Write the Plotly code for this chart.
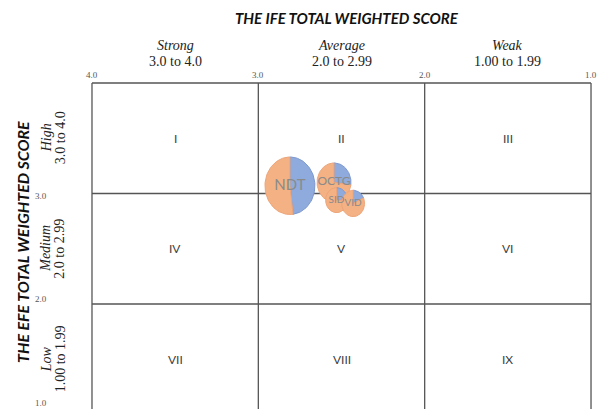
import numpy as np
import plotly.graph_objects as go

# ---------------- data ----------------
companies = ["NDT", "OCTG", "SID", "VID"]
ife_scores = [2.81, 2.545, 2.53, 2.43]      # x: IFE total weighted score
efe_scores = [3.07, 3.10, 2.94, 2.91]       # y: EFE total weighted score
bubble_size = [100, 46, 19, 21]             # relative bubble (area) size
blue_share = [0.48, 0.27, 0.25, 0.18]       # share of the blue slice

grid_values = [4.0, 3.0, 2.0, 1.0]
x_tick_text = ["4.0", "3.0", "2.0", "1.0"]
y_tick_values = [3.0, 2.0, 1.0]
y_tick_text = ["3.0", "2.0", "1.0"]
col_centers = [3.5, 2.5, 1.5]
col_names = ["Strong", "Average", "Weak"]
col_ranges = ["3.0 to 4.0", "2.0 to 2.99", "1.00 to 1.99"]
row_centers = [3.5, 2.5, 1.5]
row_names = ["High", "Medium", "Low"]
row_ranges = ["3.0 to 4.0", "2.0 to 2.99", "1.00 to 1.99"]
cell_labels = [["I", "II", "III"], ["IV", "V", "VI"], ["VII", "VIII", "IX"]]

# ---------------- geometry / style ----------------
W, H = 602, 409
X_RANGE = [4.553, 0.934]
Y_RANGE = [1.050, 4.751]
px_per_x = W / (X_RANGE[0] - X_RANGE[1])
px_per_y = H / (Y_RANGE[1] - Y_RANGE[0])
R_SCALE = 2.5       # pixels per sqrt(size)
Y_STRETCH = 1.15
BLUE = "#8FAADC"
ORANGE = "#F4B183"
BLUE_LINE = "#7C98D0"
ORANGE_LINE = "#EDA579"
GRID = "#555555"
SERIF = "Liberation Serif"
SANS = "Lato"


def wedge(cx, cy, rx, ry, a0, a1):
    n = max(int(abs(a1 - a0) / 3) + 2, 3)
    th = np.radians(np.linspace(a0, a1, n))
    xs = np.concatenate([[cx], cx - rx * np.sin(th), [cx]])
    ys = np.concatenate([[cy], cy + ry * np.cos(th), [cy]])
    return xs, ys


fig = go.Figure()

for name, cx, cy, s, f in zip(companies, ife_scores, efe_scores, bubble_size, blue_share):
    r_px = R_SCALE * np.sqrt(s)
    rx = r_px / px_per_x
    ry = r_px * Y_STRETCH / px_per_y
    split = 360 * f
    for a0, a1, fc, lc in [(0, split, BLUE, BLUE_LINE), (split, 360, ORANGE, ORANGE_LINE)]:
        xs, ys = wedge(cx, cy, rx, ry, a0, a1)
        fig.add_trace(go.Scatter(x=xs, y=ys, mode="lines", fill="toself",
                                 fillcolor=fc, line=dict(color=lc, width=1),
                                 hoverinfo="skip", showlegend=False))

fig.add_trace(go.Scatter(
    x=ife_scores, y=efe_scores, mode="text", text=companies,
    textposition="middle center",
    textfont=dict(family=SANS, size=[15, 12, 10, 10], color="#8A8A8A"),
    hoverinfo="skip", showlegend=False))

shapes = []
for v in grid_values:
    shapes.append(dict(type="line", xref="x", yref="y", x0=v, x1=v, y0=1.0, y1=4.0,
                       line=dict(color=GRID, width=1.3), layer="below"))
    shapes.append(dict(type="line", xref="x", yref="y", x0=4.0, x1=1.0, y0=v, y1=v,
                       line=dict(color=GRID, width=1.3), layer="below"))

ann = []


def ypaper(v):
    return (v - Y_RANGE[0]) / (Y_RANGE[1] - Y_RANGE[0])


def xdata_from_px(p):
    return X_RANGE[0] - p / px_per_x


def ydata_from_px(p):
    return Y_RANGE[1] - p / px_per_y


# title top
ann.append(dict(x=xdata_from_px(347), y=ydata_from_px(18), xref="x", yref="y",
                text="<b><i>THE IFE TOTAL WEIGHTED SCORE</i></b>", showarrow=False,
                font=dict(family=SANS, size=15, color="#111111")))
# y title
ann.append(dict(x=xdata_from_px(22), y=ydata_from_px(242), xref="x", yref="y",
                text="<b><i>THE EFE TOTAL WEIGHTED SCORE</i></b>", showarrow=False,
                textangle=-90, font=dict(family=SANS, size=16, color="#111111")))
# column headers
for c, n, r in zip(col_centers, col_names, col_ranges):
    ann.append(dict(x=c, y=ydata_from_px(45), xref="x", yref="y", text="<i>" + n + "</i>",
                    showarrow=False, font=dict(family=SERIF, size=14, color="#222222")))
    ann.append(dict(x=c, y=ydata_from_px(61), xref="x", yref="y", text=r,
                    showarrow=False, font=dict(family=SERIF, size=14, color="#222222")))
# row headers
for c, n, r in zip(row_centers, row_names, row_ranges):
    ann.append(dict(x=xdata_from_px(46), y=c, xref="x", yref="y", text="<i>" + n + "</i>",
                    showarrow=False, textangle=-90,
                    font=dict(family=SERIF, size=14, color="#222222")))
    ann.append(dict(x=xdata_from_px(60), y=c, xref="x", yref="y", text=r,
                    showarrow=False, textangle=-90,
                    font=dict(family=SERIF, size=14, color="#222222")))
# x tick labels
for v, t in zip(grid_values, x_tick_text):
    ann.append(dict(x=v, y=ydata_from_px(75), xref="x", yref="y", text=t,
                    showarrow=False, font=dict(family=SERIF, size=9, color="#555555")))
# y tick labels (the lowest one sits on the bottom edge of the picture)
for v, t in zip(y_tick_values, y_tick_text):
    yp = ypaper(v)
    if yp < 0.02:
        ann.append(dict(x=xdata_from_px(41), y=0, xref="x", yref="paper", text=t,
                        showarrow=False, yanchor="bottom", yshift=-1,
                        font=dict(family=SERIF, size=9, color="#555555")))
    else:
        ann.append(dict(x=xdata_from_px(41), y=yp, xref="x", yref="paper", text=t,
                        showarrow=False, yshift=-2,
                        font=dict(family=SERIF, size=9, color="#555555")))
# cell labels
for i, rc in enumerate(row_centers):
    for j, cc in enumerate(col_centers):
        ann.append(dict(x=cc, y=rc, xref="x", yref="y", text=cell_labels[i][j],
                        showarrow=False, font=dict(family=SANS, size=12, color="#404040")))

fig.update_layout(
    width=W, height=H, margin=dict(l=0, r=0, t=0, b=0),
    paper_bgcolor="white", plot_bgcolor="white",
    xaxis=dict(range=X_RANGE, visible=False, fixedrange=True),
    yaxis=dict(range=Y_RANGE, visible=False, fixedrange=True),
    shapes=shapes, annotations=ann, showlegend=False,
)

fig.write_html("out.html")
